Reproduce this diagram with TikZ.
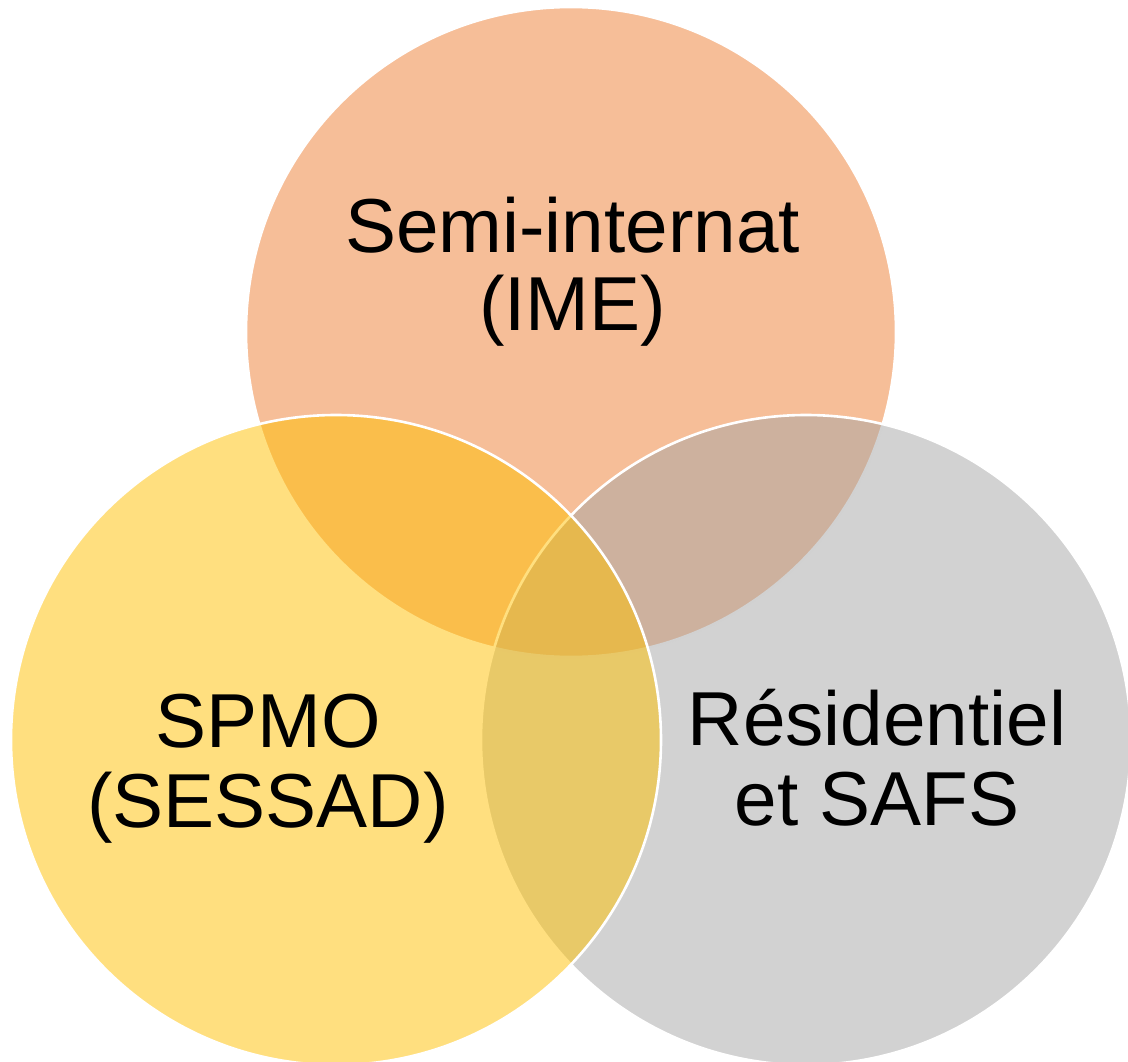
\documentclass[tikz,border=0pt]{standalone}
\usepackage{fontspec}
\setmainfont{Liberation Sans}
\definecolor{corange}{HTML}{ED7D31}
\definecolor{cgrey}{HTML}{A5A5A5}
\definecolor{cyellow}{HTML}{FFC000}
\begin{document}
\begin{tikzpicture}[x=1pt,y=-1pt,
  venn/.style={fill opacity=0.5, draw=white, draw opacity=1, line width=2.6pt},
  lbl/.style={anchor=base, inner sep=0pt, text=black, font=\fontsize{76.5}{79}\selectfont}]
\useasboundingbox (0,0) rectangle (1128,1062);
\path[venn, fill=corange] (571,332) circle[radius=325];
\path[venn, fill=cgrey] (806,740) circle[radius=325];
\path[venn, fill=cyellow] (336,740) circle[radius=325];
\node[lbl] (t1a) at (572.5,252) {Semi-internat};
\node[lbl] (t1b) at (572.5,330) {(IME)};
\node[lbl] (t2a) at (268,747) {SPMO};
\node[lbl] (t2b) at (268,827) {(SESSAD)};
\node[lbl] (t3a) at (877,745) {Résidentiel};
\node[lbl] (t3b) at (877,825) {et SAFS};
\end{tikzpicture}
\end{document}
